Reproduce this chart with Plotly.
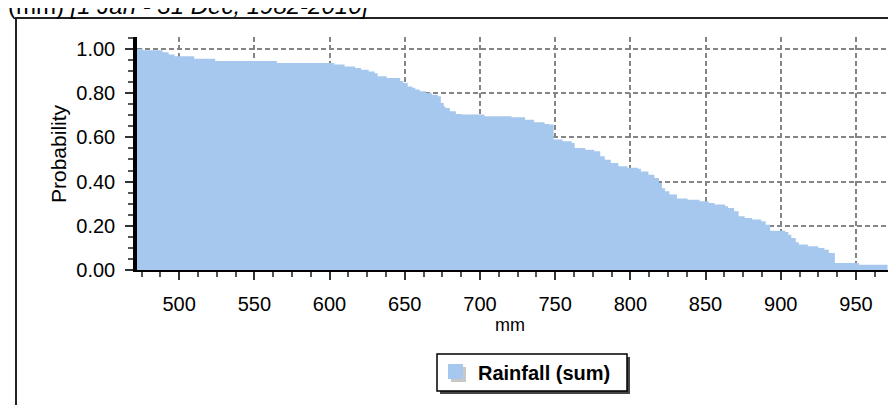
import plotly.graph_objects as go

# Exceedance probability of annual rainfall (step curve)
rainfall_mm = [472, 476, 489, 493, 497, 510, 524, 565, 603, 610, 617, 621, 626, 630,
               632, 638, 647, 649, 652, 655, 657, 660, 664, 668, 672, 674, 676, 677,
               680, 684, 688, 703, 721, 730, 736, 743, 746, 749, 755, 761, 763, 770,
               776, 780, 783, 787, 792, 798, 805, 807, 812, 816, 819, 821, 823, 826,
               831, 838, 846, 852, 856, 863, 865, 869, 872, 876, 881, 887, 890, 893,
               903, 905, 907, 910, 912, 918, 925, 929, 932, 936, 952, 971]
probability = [1.000, 0.994, 0.985, 0.975, 0.967, 0.956, 0.945, 0.936, 0.930, 0.921,
               0.914, 0.906, 0.898, 0.890, 0.876, 0.869, 0.855, 0.846, 0.830, 0.824,
               0.816, 0.809, 0.801, 0.793, 0.786, 0.756, 0.740, 0.733, 0.718, 0.706,
               0.703, 0.695, 0.691, 0.680, 0.668, 0.661, 0.658, 0.590, 0.582, 0.575,
               0.552, 0.544, 0.537, 0.514, 0.499, 0.484, 0.469, 0.462, 0.458, 0.446,
               0.431, 0.416, 0.394, 0.370, 0.356, 0.341, 0.323, 0.318, 0.311, 0.303,
               0.296, 0.288, 0.281, 0.266, 0.243, 0.235, 0.228, 0.220, 0.205, 0.178,
               0.172, 0.160, 0.145, 0.125, 0.115, 0.107, 0.100, 0.092, 0.077, 0.032,
               0.024, 0.021]
series_name = "Rainfall (sum)"
title_text = "(mm) <i>[1 Jan - 31 Dec, 1982-2010]</i>"
x_title = "mm"
y_title = "Probability"

FILL = "#A7C8EE"
FONT = "Liberation Sans, Arial, sans-serif"

W, H = 896, 405
L, R, T, B = 129, 16, 29, 143
pw, ph = W - L - R, H - T - B


def px2paper_x(px):
    return (px - L) / pw


def py2paper_y(py):
    return (H - B - py) / ph


fig = go.Figure()
fig.add_trace(go.Scatter(
    x=rainfall_mm, y=probability, mode="lines", line=dict(shape="hv", width=0, color=FILL),
    fill="tozeroy", fillcolor=FILL, showlegend=False, hoverinfo="x+y"))

# frame around the chart
fig.add_shape(type="rect", xref="paper", yref="paper",
              x0=px2paper_x(8), x1=px2paper_x(W + 20), y0=py2paper_y(H + 20), y1=py2paper_y(10),
              line=dict(color="#222222", width=2), fillcolor="rgba(0,0,0,0)", layer="below")

# legend (custom box with shadow)
lx0, lx1, ly0, ly1 = 429, 619, 346, 383
fig.add_shape(type="rect", xref="paper", yref="paper",
              x0=px2paper_x(lx0 + 3), x1=px2paper_x(lx1 + 3), y0=py2paper_y(ly1 + 3), y1=py2paper_y(ly0 + 3),
              line=dict(width=0), fillcolor="#444444")
fig.add_shape(type="rect", xref="paper", yref="paper",
              x0=px2paper_x(lx0), x1=px2paper_x(lx1), y0=py2paper_y(ly1), y1=py2paper_y(ly0),
              line=dict(color="black", width=1.5), fillcolor="white")
sx0, sy0, ss = 440, 356, 15
fig.add_shape(type="rect", xref="paper", yref="paper",
              x0=px2paper_x(sx0 + 3), x1=px2paper_x(sx0 + ss + 3), y0=py2paper_y(sy0 + ss + 3), y1=py2paper_y(sy0 + 3),
              line=dict(width=0), fillcolor="#C8C8C8")
fig.add_shape(type="rect", xref="paper", yref="paper",
              x0=px2paper_x(sx0), x1=px2paper_x(sx0 + ss), y0=py2paper_y(sy0 + ss), y1=py2paper_y(sy0),
              line=dict(width=0), fillcolor=FILL)
fig.add_annotation(text="<b>" + series_name + "</b>", xref="paper", yref="paper",
                   x=px2paper_x(468), y=py2paper_y(364.5), xanchor="left", yanchor="middle",
                   showarrow=False, font=dict(family=FONT, size=20, color="black"))

# title (clipped at top of page)
fig.add_annotation(text=title_text, xref="paper", yref="paper",
                   x=px2paper_x(364), y=py2paper_y(13), xanchor="right", yanchor="bottom",
                   showarrow=False, font=dict(family=FONT, size=24, color="black"))

# axis titles
fig.add_annotation(text=y_title, xref="paper", yref="paper", textangle=-90,
                   x=px2paper_x(50), y=py2paper_y(146), xanchor="center", yanchor="middle",
                   showarrow=False, font=dict(family=FONT, size=21, color="black"))
fig.add_annotation(text=x_title, xref="paper", yref="paper",
                   x=px2paper_x(502), y=py2paper_y(317), xanchor="center", yanchor="middle",
                   showarrow=False, font=dict(family=FONT, size=18, color="black"))

grid = dict(showgrid=True, gridcolor="#858585", gridwidth=1.5, griddash="5px,3px")

fig.update_xaxes(range=[472, 971.3], tick0=500, dtick=50, ticks="outside", ticklen=8, tickwidth=1.5,
                 tickcolor="#333333", showline=True, linecolor="black", linewidth=2,
                 tickfont=dict(family=FONT, size=20, color="black"), ticklabelstandoff=7,
                 minor=dict(dtick=12.5, tick0=500, ticks="outside", ticklen=5, tickwidth=1.5,
                            tickcolor="#555555", showgrid=False),
                 zeroline=False, **grid)
fig.update_yaxes(range=[0, 1.054], tick0=0, dtick=0.2, tickformat=".2f", ticks="outside", ticklen=8,
                 tickwidth=1.5, tickcolor="#333333", showline=True, linecolor="black", linewidth=3.5,
                 tickfont=dict(family=FONT, size=20, color="black"), ticklabelstandoff=6,
                 minor=dict(dtick=0.05, tick0=0, ticks="outside", ticklen=5, tickwidth=1.5,
                            tickcolor="#555555", showgrid=False),
                 zeroline=False, **grid)

fig.update_layout(width=W, height=H, margin=dict(l=L, r=R, t=T, b=B, autoexpand=False),
                  paper_bgcolor="white", plot_bgcolor="white", showlegend=False,
                  font=dict(family=FONT, size=20, color="black"))

fig.write_html("out.html")
